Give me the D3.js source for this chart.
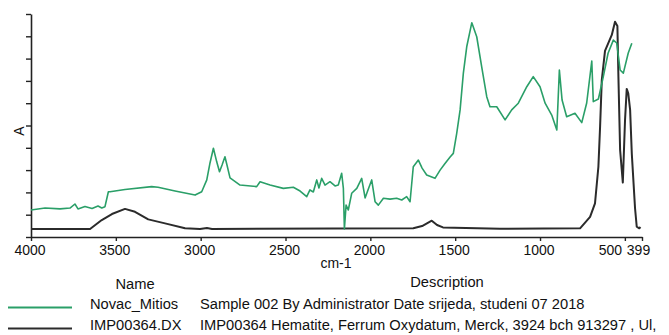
<!DOCTYPE html>
<html>
<head>
<meta charset="utf-8">
<script src="https://cdn.jsdelivr.net/npm/d3@7"></script>
<style>
    body { margin: 0; background: #fff; }
    svg { display: block; font-family: "Liberation Sans", Arial, sans-serif; }
</style>
</head>
<body>
<div id="chart"></div>
<script>
// Spectra as [wavenumber cm-1, absorbance]
const novacMitios = [
    [4000, 0.121], [3917, 0.130], [3829, 0.126], [3770, 0.130], [3741, 0.148], [3723, 0.126],
    [3682, 0.137], [3640, 0.128], [3605, 0.139], [3583, 0.130], [3564, 0.136], [3544, 0.203],
    [3534, 0.203], [3446, 0.213], [3289, 0.226], [3251, 0.223], [3151, 0.206], [3033, 0.188],
    [2994, 0.203], [2964, 0.256], [2945, 0.332], [2925, 0.398], [2905, 0.336], [2889, 0.293],
    [2874, 0.323], [2857, 0.360], [2845, 0.323], [2827, 0.265], [2768, 0.233], [2670, 0.226],
    [2650, 0.248], [2591, 0.233], [2513, 0.218], [2454, 0.223], [2414, 0.206], [2375, 0.181],
    [2356, 0.211], [2336, 0.202], [2316, 0.256], [2303, 0.220], [2287, 0.263], [2267, 0.233],
    [2238, 0.248], [2208, 0.229], [2189, 0.233], [2169, 0.286], [2159, 0.218], [2153, 0.036],
    [2143, 0.143], [2130, 0.121], [2110, 0.196], [2080, 0.218], [2051, 0.263], [2031, 0.175],
    [2014, 0.211], [1992, 0.256], [1972, 0.158], [1953, 0.143], [1923, 0.174], [1884, 0.170],
    [1845, 0.174], [1815, 0.166], [1786, 0.181], [1766, 0.158], [1747, 0.315], [1717, 0.345],
    [1695, 0.309], [1668, 0.278], [1619, 0.263], [1589, 0.300], [1560, 0.330], [1530, 0.359],
    [1511, 0.375], [1491, 0.465], [1471, 0.570], [1452, 0.734], [1432, 0.853], [1402, 0.961],
    [1373, 0.898], [1344, 0.764], [1314, 0.629], [1295, 0.584], [1255, 0.584], [1206, 0.525],
    [1167, 0.570], [1128, 0.600], [1078, 0.674], [1040, 0.719], [1000, 0.674], [970, 0.600],
    [931, 0.547], [901, 0.480], [886, 0.749], [870, 0.614], [843, 0.539], [794, 0.555],
    [754, 0.513], [725, 0.601], [695, 0.789], [686, 0.607], [656, 0.619], [627, 0.719],
    [599, 0.824], [568, 0.883], [548, 0.870], [528, 0.749], [509, 0.735], [480, 0.825],
    [459, 0.869]
];

const imp00364 = [
    [4000, 0.036], [3652, 0.036], [3583, 0.076], [3523, 0.103], [3446, 0.126], [3387, 0.113],
    [3309, 0.079], [3210, 0.061], [3092, 0.039], [3004, 0.036], [2963, 0.040], [2933, 0.036],
    [1747, 0.039], [1695, 0.049], [1638, 0.073], [1607, 0.054], [1572, 0.043], [1236, 0.037],
    [764, 0.039], [705, 0.090], [676, 0.151], [656, 0.315], [646, 0.495], [636, 0.704],
    [617, 0.835], [577, 0.906], [558, 0.965], [544, 0.946], [538, 0.719], [528, 0.390],
    [512, 0.244], [499, 0.525], [489, 0.664], [480, 0.644], [469, 0.570], [459, 0.372],
    [440, 0.129], [430, 0.046], [415, 0.039], [408, 0.045]
];

const xTickValues = [4000, 3500, 3000, 2500, 2000, 1500, 1000, 500, 399];
const yTickValues = d3.range(0, 11).map(d => d / 10);

const seriesNames = ['Novac_Mitios', 'IMP00364.DX'];
const seriesDescriptions = [
    'Sample 002 By Administrator Date srijeda, studeni 07 2018',
    'IMP00364 Hematite, Ferrum Oxydatum, Merck, 3924 bch 913297 , Ul,'
];
const seriesColors = ['#2a9f68', '#2b2b2b'];

const width = 669;
const height = 335;
const plot = {left: 31, right: 642, top: 14, bottom: 237};
const legendFont = 14.7;

const svg = d3.select('#chart')
    .append('svg')
    .attr('width', width)
    .attr('height', height);

const x = d3.scaleLinear().domain([4000, 399]).range([plot.left, plot.right]);
const y = d3.scaleLinear().domain([0, 1]).range([plot.bottom, plot.top]);

// Axes
const xAxis = svg.append('g')
    .attr('transform', `translate(0,${plot.bottom})`)
    .call(d3.axisBottom(x).tickValues(xTickValues).tickSize(4).tickPadding(4).tickSizeOuter(0)
        .tickFormat(d3.format('d')));

const yAxis = svg.append('g')
    .attr('transform', `translate(${plot.left},0)`)
    .call(d3.axisLeft(y).tickValues(yTickValues).tickSize(5).tickSizeOuter(0).tickFormat(''));

[xAxis, yAxis].forEach(g => {
    g.select('.domain').attr('stroke', '#222').attr('stroke-width', 1.6);
    g.selectAll('.tick line').attr('stroke', '#222').attr('stroke-width', 1.4);
});

// labels sit a little left of their ticks; the last two are pushed apart
xAxis.selectAll('text')
    .attr('font-size', 14)
    .attr('fill', '#111')
    .attr('font-family', '"Liberation Sans", Arial, sans-serif')
    .attr('dx', d => d === 500 ? -15 : d === 399 ? -4 : -1.5);

// Axis titles
svg.append('text')
    .attr('x', 336)
    .attr('y', 268)
    .attr('text-anchor', 'middle')
    .attr('font-size', 14)
    .attr('fill', '#111')
    .text('cm-1');

svg.append('text')
    .attr('transform', 'translate(24,131) rotate(-90)')
    .attr('text-anchor', 'middle')
    .attr('font-size', 14)
    .attr('fill', '#111')
    .text('A');

// Spectra
const line = d3.line()
    .x(d => x(d[0]))
    .y(d => y(d[1]));

[imp00364, novacMitios].forEach((data, i) => {
    svg.append('path')
        .datum(data)
        .attr('fill', 'none')
        .attr('stroke', seriesColors[1 - i])
        .attr('stroke-width', i === 0 ? 2 : 1.6)
        .attr('stroke-linejoin', 'round')
        .attr('d', line);
});

// Legend
svg.append('text')
    .attr('x', 135).attr('y', 289)
    .attr('text-anchor', 'middle')
    .attr('font-size', legendFont).attr('fill', '#111')
    .text('Name');

svg.append('text')
    .attr('x', 447).attr('y', 287)
    .attr('text-anchor', 'middle')
    .attr('font-size', legendFont).attr('fill', '#111')
    .text('Description');

seriesNames.forEach((name, i) => {
    const rowY = 309 + i * 21;
    svg.append('line')
        .attr('x1', 8).attr('x2', 72)
        .attr('y1', rowY - 1.5).attr('y2', rowY - 1.5)
        .attr('stroke', seriesColors[i])
        .attr('stroke-width', 2);
    svg.append('text')
        .attr('x', 90).attr('y', rowY)
        .attr('font-size', legendFont).attr('fill', '#111')
        .text(name);
    svg.append('text')
        .attr('x', 200).attr('y', rowY)
        .attr('font-size', legendFont).attr('fill', '#111')
        .text(seriesDescriptions[i]);
});
</script>
</body>
</html>
